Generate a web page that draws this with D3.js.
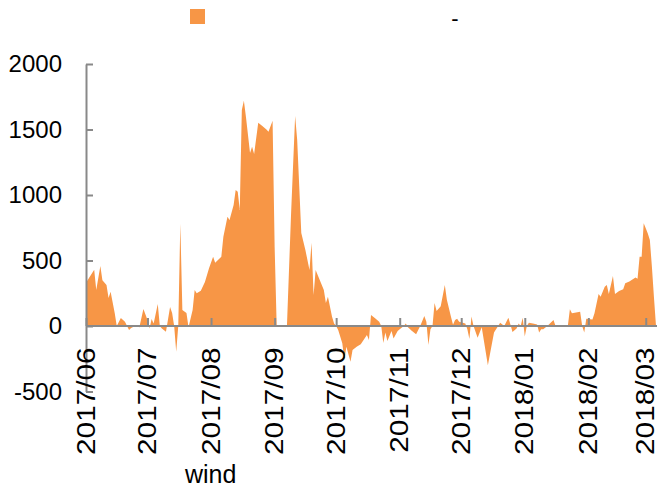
<!DOCTYPE html>
<html>
<head>
<meta charset="utf-8">
<script src="https://cdn.jsdelivr.net/npm/d3@7"></script>
<style>
  body { margin: 0; background: #fff; }
  svg { display: block; font-family: "Liberation Sans", Arial, sans-serif; }
</style>
</head>
<body>
<div id="chart"></div>
<script>
// daily readings, wind series
var dates = [
  '2017-06-01','2017-06-05','2017-06-06','2017-06-08','2017-06-09','2017-06-11','2017-06-12','2017-06-13',
  '2017-06-15','2017-06-16','2017-06-18','2017-06-20','2017-06-22','2017-06-23','2017-06-26','2017-06-27',
  '2017-06-29','2017-07-01','2017-07-02','2017-07-03','2017-07-04','2017-07-06','2017-07-07','2017-07-08',
  '2017-07-10','2017-07-12','2017-07-13','2017-07-14','2017-07-15','2017-07-16','2017-07-17','2017-07-18',
  '2017-07-20','2017-07-21','2017-07-23','2017-07-24','2017-07-25','2017-07-27','2017-07-29','2017-07-31',
  '2017-08-02','2017-08-03','2017-08-06','2017-08-07','2017-08-09','2017-08-10','2017-08-12','2017-08-13',
  '2017-08-14','2017-08-15','2017-08-16','2017-08-17','2017-08-18','2017-08-20','2017-08-21','2017-08-22',
  '2017-08-24','2017-08-26','2017-08-28','2017-08-29','2017-08-31','2017-09-01','2017-09-02','2017-09-07',
  '2017-09-09','2017-09-11','2017-09-12','2017-09-14','2017-09-16','2017-09-18','2017-09-19','2017-09-20',
  '2017-09-21','2017-09-23','2017-09-25','2017-09-26','2017-09-27','2017-09-29','2017-09-30','2017-10-01',
  '2017-10-02','2017-10-04','2017-10-05','2017-10-06','2017-10-08','2017-10-09','2017-10-11','2017-10-13',
  '2017-10-16','2017-10-17','2017-10-18','2017-10-20','2017-10-22','2017-10-23','2017-10-24','2017-10-25',
  '2017-10-26','2017-10-28','2017-10-29','2017-10-31','2017-11-01','2017-11-03','2017-11-04','2017-11-05',
  '2017-11-07','2017-11-09','2017-11-11','2017-11-13','2017-11-14','2017-11-15','2017-11-16','2017-11-17',
  '2017-11-18','2017-11-19','2017-11-21','2017-11-23','2017-11-24','2017-11-26','2017-11-27','2017-11-28',
  '2017-11-29','2017-11-30','2017-12-03','2017-12-04','2017-12-05','2017-12-06','2017-12-07','2017-12-09',
  '2017-12-11','2017-12-14','2017-12-17','2017-12-19','2017-12-20','2017-12-22','2017-12-24','2017-12-25',
  '2017-12-26','2017-12-28','2017-12-29','2017-12-30','2017-12-31','2018-01-01','2018-01-02','2018-01-03',
  '2018-01-05','2018-01-07','2018-01-08','2018-01-09','2018-01-10','2018-01-12','2018-01-15','2018-01-16',
  '2018-01-22','2018-01-23','2018-01-24','2018-01-28','2018-01-29','2018-01-30','2018-01-31','2018-02-03',
  '2018-02-04','2018-02-06','2018-02-07','2018-02-09','2018-02-10','2018-02-11','2018-02-13','2018-02-14',
  '2018-02-16','2018-02-18','2018-02-19','2018-02-21','2018-02-24','2018-02-25','2018-02-26','2018-02-27',
  '2018-02-28','2018-03-01','2018-03-02','2018-03-03','2018-03-04','2018-03-05','2018-03-06'
];
var values = [
  330, 430, 275, 458, 350, 313, 214, 262,
  99, 0, 61, 33, -30, -15, 8, -12,
  130, 46, -20, 53, 20, 168, 0, -20,
  -43, 145, 100, 0, -196, 0, 780, 122,
  100, -10, 122, 275, 250, 270, 335, 440,
  529, 483, 529, 682, 834, 809, 924, 1038,
  1025, 885, 1649, 1720, 1598, 1320, 1369, 1313,
  1552, 1527, 1500, 1483, 1567, 605, 0, 0,
  850, 1603, 1420, 710, 580, 427, 636, 237,
  427, 351, 275, 175, 224, 70, 20, 0,
  -30, -132, -260, -158, -272, -183, -158, -140,
  -69, -107, 84, 59, 33, 0, -130, -50,
  -115, -38, -95, -38, -25, 0, 20, -10,
  -38, -63, 0, 76, 33, -145, -25, 0,
  175, 115, 150, 313, 200, 70, 10, 46,
  55, 33, 20, -25, -100, 73, 0, -90,
  -10, -300, -50, 0, 25, 0, 63, 12,
  -46, -20, 20, 0, 63, -80, 0, 25,
  20, 12, -50, -25, -25, 0, 46, 0,
  0, 127, 97, 109, 0, -50, 56, 50,
  97, 244, 224, 300, 313, 244, 382, 244,
  267, 280, 326, 340, 370, 360, 529, 529,
  784, 746, 707, 656, 453, 220, 0
];
var monthLabels = ['2017/06','2017/07','2017/08','2017/09','2017/10','2017/11','2017/12','2018/01','2018/02','2018/03'];
var yTicks = [-500, 0, 500, 1000, 1500, 2000];
var seriesName = 'wind';

var width = 659, height = 493;
var orange = '#F79646';
var axisGrey = '#898989';

var parseDay = d3.timeParse('%Y-%m-%d');
var parseMonth = d3.timeParse('%Y/%m');
var data = dates.map(function(d, i){ return { date: parseDay(d), value: values[i] }; });
var monthDates = monthLabels.map(parseMonth);

var x = d3.scaleTime()
    .domain([parseDay('2017-06-01'), parseDay('2018-03-06')])
    .range([86, 656]);
var y = d3.scaleLinear()
    .domain([-500, 2000])
    .range([391.5, 64]);

var svg = d3.select('#chart').append('svg')
    .attr('width', width)
    .attr('height', height);

// legend (series swatch + separator)
svg.append('rect')
    .attr('x', 190).attr('y', 9)
    .attr('width', 15).attr('height', 15)
    .attr('fill', orange);
svg.append('text')
    .attr('x', 455).attr('y', 26)
    .attr('text-anchor', 'middle')
    .attr('font-size', 22)
    .attr('fill', '#000')
    .text('-');

var area = d3.area()
    .x(function(d){ return x(d.date); })
    .y0(y(0))
    .y1(function(d){ return y(d.value); });

svg.append('path')
    .datum(data)
    .attr('fill', orange)
    .attr('d', area);

var yAxis = svg.append('g')
    .attr('transform', 'translate(86,0)')
    .call(d3.axisLeft(y)
        .tickValues(yTicks)
        .tickSize(-7)
        .tickSizeOuter(0)
        .tickPadding(24)
        .tickFormat(function(d){ return String(d); }));
yAxis.selectAll('text')
    .attr('font-size', 24)
    .attr('fill', '#000');

var xAxis = svg.append('g')
    .attr('transform', 'translate(0,' + y(0) + ')')
    .call(d3.axisBottom(x)
        .tickValues(monthDates)
        .tickSize(-8)
        .tickSizeOuter(0)
        .tickFormat(function(d, i){ return monthLabels[i]; }));
xAxis.select('.domain').attr('d', 'M86,0H657');
xAxis.selectAll('text')
    .attr('font-size', 25)
    .attr('fill', '#000')
    .attr('text-anchor', 'end')
    .attr('transform', 'rotate(-90) scale(1.19,1)')
    .attr('x', -18)
    .attr('y', 0)
    .attr('dy', '0.32em');

svg.selectAll('.domain, .tick line')
    .attr('stroke', axisGrey)
    .attr('stroke-width', 2);

svg.append('text')
    .attr('x', 185).attr('y', 483)
    .attr('font-size', 25)
    .attr('fill', '#000')
    .text(seriesName);
</script>
</body>
</html>
